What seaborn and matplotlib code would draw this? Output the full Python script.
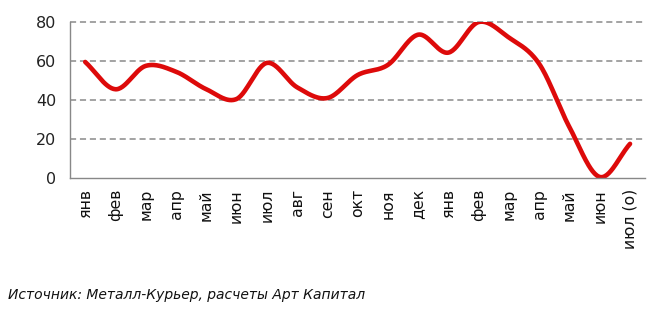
import numpy as np
import pandas as pd
import matplotlib
matplotlib.use("Agg")
import matplotlib.pyplot as plt
import seaborn as sns

months = ["янв", "фев", "мар", "апр", "май", "июн", "июл", "авг", "сен",
          "окт", "ноя", "дек", "янв", "фев", "мар", "апр", "май", "июн", "июл (о)"]
values = [59.5, 45.5, 57.5, 54.5, 45.5, 40.5, 59.0, 46.5, 41.0,
          52.8, 58.0, 73.5, 64.3, 80.0, 72.0, 58.5, 26.0, 0.5, 17.5]
y_ticks = [0, 20, 40, 60, 80]
caption = "Источник: Металл-Курьер, расчеты Арт Капитал"


def catmull_rom(x, y, n=30):
    # Excel-like smoothed line through the data points
    x = np.asarray(x, float)
    y = np.asarray(y, float)
    px = np.concatenate([[2 * x[0] - x[1]], x, [2 * x[-1] - x[-2]]])
    py = np.concatenate([[2 * y[0] - y[1]], y, [2 * y[-1] - y[-2]]])
    xs, ys = [], []
    t = np.linspace(0, 1, n, endpoint=False)
    for i in range(1, len(px) - 2):
        for P, out in ((px[i - 1:i + 3], xs), (py[i - 1:i + 3], ys)):
            a, b, c, d = P
            out.extend(0.5 * ((2 * b) + (-a + c) * t + (2 * a - 5 * b + 4 * c - d) * t ** 2
                              + (-a + 3 * b - 3 * c + d) * t ** 3))
    xs.append(x[-1])
    ys.append(y[-1])
    return np.array(xs), np.array(ys)


sns.set_theme(style="white")
plt.rcParams["font.family"] = ["DejaVu Sans"]

fig = plt.figure(figsize=(6.55, 3.10), dpi=100)
ax = fig.add_axes([0.107, 0.426, 0.878, 0.503])

pos = np.arange(len(months))
sx, sy = catmull_rom(pos, values)
df = pd.DataFrame({"x": sx, "y": sy})
sns.lineplot(data=df, x="x", y="y", ax=ax, color="#dd0a0a", linewidth=3.3,
             sort=False, estimator=None)

ax.set_xlim(-0.5, len(months) - 0.5)
ax.set_ylim(0, 80)
ax.set_yticks(y_ticks)
ax.set_yticklabels([str(v) for v in y_ticks], fontsize=11.5, color="#222222")
ax.set_xticks(pos)
ax.set_xticklabels(months, rotation=90, fontsize=11.3, color="#111111", va="top")
ax.set_xticks(np.arange(-0.5, len(months), 1), minor=True)
ax.tick_params(axis="x", which="major", length=0, pad=8)
ax.tick_params(axis="x", which="minor", length=5, color="#888888", width=1, direction="out")
ax.tick_params(axis="y", length=6, color="#888888", width=1, direction="out", pad=4)
ax.set_xlabel("")
ax.set_ylabel("")

for v in y_ticks[1:]:
    ax.axhline(v, color="#8a8a8a", linestyle=(0, (4, 2.5)), linewidth=1.1, zorder=0,
               clip_on=False)

for s in ["top", "right"]:
    ax.spines[s].set_visible(False)
for s in ["left", "bottom"]:
    ax.spines[s].set_color("#888888")
    ax.spines[s].set_linewidth(1)

fig.text(0.012, 0.035, caption, fontsize=10, style="italic", color="#111111")

fig.savefig("out.png", dpi=100)
